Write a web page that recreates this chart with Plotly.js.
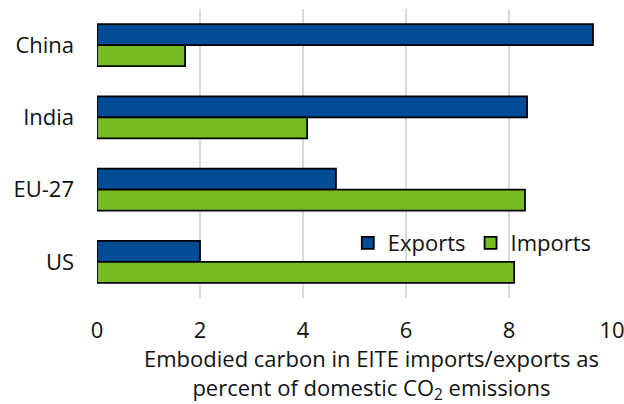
<!DOCTYPE html>
<html>
<head>
<meta charset="utf-8">
<script src="https://cdn.plot.ly/plotly-3.0.1.min.js"></script>
<style>
  html, body { margin: 0; padding: 0; background: #ffffff; }
  #chart { width: 624px; height: 404px; }
</style>
</head>
<body>
<div id="chart"></div>
<script>
// Regions, top to bottom
const regions = ["China", "India", "EU-27", "US"];
// Embodied carbon in EITE trade, % of domestic CO2 emissions
const exportsPct = [9.63, 8.35, 4.64, 2.0];
const importsPct = [1.71, 4.08, 8.31, 8.1];
const xTicks = [0, 2, 4, 6, 8, 10];

const BLUE = "#024B96";
const GREEN = "#77BD22";
const INK = "#111111";
const FONT = "'Open Sans', 'Noto Sans', sans-serif";

const traces = [
  {
    type: "bar", orientation: "h", name: "Exports",
    y: regions, x: exportsPct,
    marker: { color: BLUE, line: { color: "#000000", width: 1.8 } },
    hoverinfo: "skip"
  },
  {
    type: "bar", orientation: "h", name: "Imports",
    y: regions, x: importsPct,
    marker: { color: GREEN, line: { color: "#000000", width: 1.8 } },
    hoverinfo: "skip"
  }
];

const layout = {
  width: 624, height: 404,
  margin: { l: 97, r: 12, t: 9, b: 106 },
  paper_bgcolor: "#ffffff", plot_bgcolor: "#ffffff",
  font: { family: FONT, size: 22, color: INK },
  barmode: "group",
  bargap: 0.42,
  bargroupgap: 0,
  showlegend: true,
  legend: {
    orientation: "h",
    x: 0.487, xanchor: "left",
    y: 0.19, yanchor: "middle",
    bgcolor: "rgba(0,0,0,0)",
    font: { family: FONT, size: 22, color: INK },
    itemwidth: 30,
    traceorder: "normal"
  },
  // white patch behind the legend hides the gridlines but not the bars
  shapes: [
    {
      type: "rect", xref: "paper", yref: "paper",
      x0: 0.515, x1: 0.985, y0: 0.135, y1: 0.24,
      fillcolor: "#ffffff", line: { width: 0 }, layer: "between"
    }
  ],
  xaxis: {
    range: [0, 10],
    tickvals: xTicks,
    ticktext: xTicks.map(String),
    showgrid: true, gridcolor: "#d9d9d9", gridwidth: 2,
    zeroline: false, showline: false,
    ticks: "", ticklabelstandoff: 17,
    ticklabeloverflow: "allow",
    tickfont: { family: FONT, size: 22, color: INK },
    fixedrange: true
  },
  yaxis: {
    type: "category",
    autorange: "reversed",
    showgrid: false, zeroline: false, showline: false,
    ticks: "", ticklabelstandoff: 22,
    tickfont: { family: FONT, size: 22, color: INK },
    fixedrange: true
  },
  annotations: [
    {
      xref: "paper", yref: "paper",
      x: 0.533, y: -0.152, xanchor: "center", yanchor: "top",
      text: "Embodied carbon in EITE imports/exports as<br>percent of domestic CO<sub>2</sub> emissions",
      showarrow: false, borderpad: 0,
      font: { family: FONT, size: 22, color: INK },
      align: "center"
    }
  ]
};

Plotly.newPlot("chart", traces, layout, { displayModeBar: false, staticPlot: true });
</script>
</body>
</html>
